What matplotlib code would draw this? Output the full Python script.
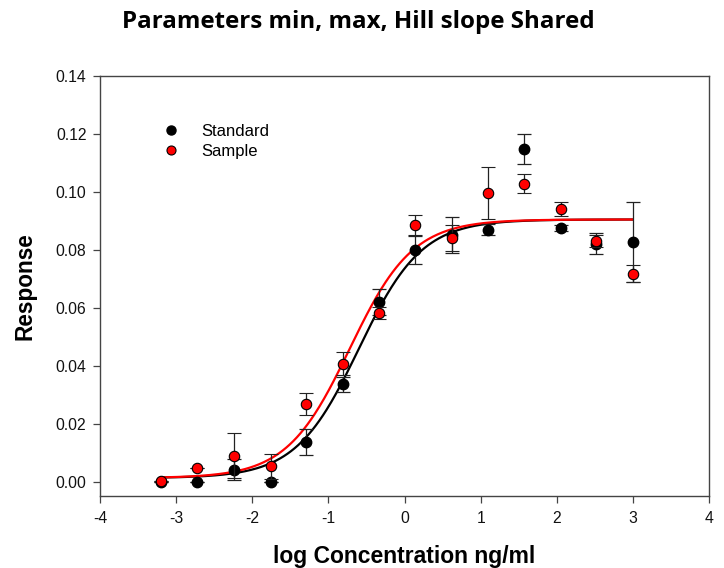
import numpy as np
import matplotlib
matplotlib.use("Agg")
import matplotlib.pyplot as plt
from matplotlib.lines import Line2D

plt.rcParams["axes.unicode_minus"] = False

# log concentration (ng/ml), 3-fold dilution series
log_conc = [3.00, 2.52, 2.05, 1.57, 1.10, 0.62, 0.14, -0.33, -0.81, -1.29, -1.76, -2.24, -2.72, -3.20]

std_mean = [0.0827, 0.0822, 0.0875, 0.1148, 0.0870, 0.0850, 0.0800, 0.0620, 0.0337, 0.0137, 0.0000, 0.0041, 0.0000, 0.0000]
std_err  = [0.0138, 0.0035, 0.0010, 0.0053, 0.0020, 0.0062, 0.0048, 0.0045, 0.0026, 0.0045, 0.0000, 0.0036, 0.0000, 0.0000]

smp_mean = [0.0718, 0.0830, 0.0941, 0.1028, 0.0996, 0.0842, 0.0885, 0.0582, 0.0407, 0.0269, 0.0053, 0.0090, 0.0047, 0.0003]
smp_err  = [0.0030, 0.0020, 0.0024, 0.0033, 0.0090, 0.0045, 0.0035, 0.0020, 0.0040, 0.0038, 0.0042, 0.0078, 0.0000, 0.0000]

# shared 4PL fit parameters
fit_min = 0.0013
fit_max = 0.0905
fit_hill = 1.05
std_ec50 = -0.60
smp_ec50 = -0.72
curve_range = (-3.20, 3.00)


def four_pl(x, ec50):
    return fit_min + (fit_max - fit_min) / (1.0 + 10 ** ((ec50 - x) * fit_hill))


fig = plt.figure(figsize=(7.24, 5.68), dpi=100)
ax = fig.add_axes([100 / 724, 1 - 496 / 568, 609 / 724, 420 / 568])

xs = np.linspace(curve_range[0], curve_range[1], 400)
ax.plot(xs, four_pl(xs, std_ec50), color="black", lw=1.6, zorder=3)
ax.plot(xs, four_pl(xs, smp_ec50), color="#ff0000", lw=1.6, zorder=4)

ax.errorbar(log_conc, std_mean, yerr=std_err, fmt="o", color="black", ecolor="#222222",
            elinewidth=0.9, capsize=5, capthick=0.9, markersize=7.5,
            markeredgecolor="black", markerfacecolor="black", zorder=5)
ax.errorbar(log_conc, smp_mean, yerr=smp_err, fmt="o", color="black", ecolor="#222222",
            elinewidth=0.9, capsize=5, capthick=0.9, markersize=7.5,
            markeredgecolor="black", markerfacecolor="#ff0000", markeredgewidth=0.8, zorder=6)

ax.set_xlim(-4, 4)
ax.set_ylim(-0.0049, 0.14)
ax.set_xticks(range(-4, 5))
ax.set_yticks(np.arange(0, 0.141, 0.02))
ax.set_yticklabels([f"{v:.2f}" for v in np.arange(0, 0.141, 0.02)])

for s in ax.spines.values():
    s.set_color("#444444")
    s.set_linewidth(1.0)
ax.tick_params(direction="out", length=4.8, width=0.9, color="#444444",
               labelsize=11.3, labelcolor="#111111")
ax.tick_params(axis="y", pad=5)
ax.tick_params(axis="x", pad=6)
for lab in ax.get_xticklabels() + ax.get_yticklabels():
    lab.set_fontfamily("Liberation Sans")

ax.set_xlabel("log Concentration ng/ml", fontsize=16.5, fontweight="bold",
              fontfamily="Liberation Sans", va="top")
ax.xaxis.set_label_coords(0.5, -0.117)
ax.set_ylabel("Response", fontsize=16.3, fontweight="bold",
              fontfamily="Liberation Sans", va="bottom")
ax.yaxis.set_label_coords(-0.105, 0.5)

fig.text(358 / 724, 1 - 22 / 568, "Parameters min, max, Hill slope Shared", ha="center",
         va="center", fontsize=17.4, fontweight="bold", fontfamily="Open Sans")

handles = [
    Line2D([], [], ls="none", marker="o", markersize=6.5, markerfacecolor="black",
           markeredgecolor="black"),
    Line2D([], [], ls="none", marker="o", markersize=6.5, markerfacecolor="#ff0000",
           markeredgecolor="black", markeredgewidth=0.8),
]
leg = ax.legend(handles, ["Standard", "Sample"], loc="upper left",
                bbox_to_anchor=(0.089, 0.885), frameon=False, borderpad=0,
                handlelength=2.0, handletextpad=0.8, borderaxespad=0,
                labelspacing=0.28, prop={"family": "Liberation Sans", "size": 12})

fig.savefig("out.png", dpi=100)
